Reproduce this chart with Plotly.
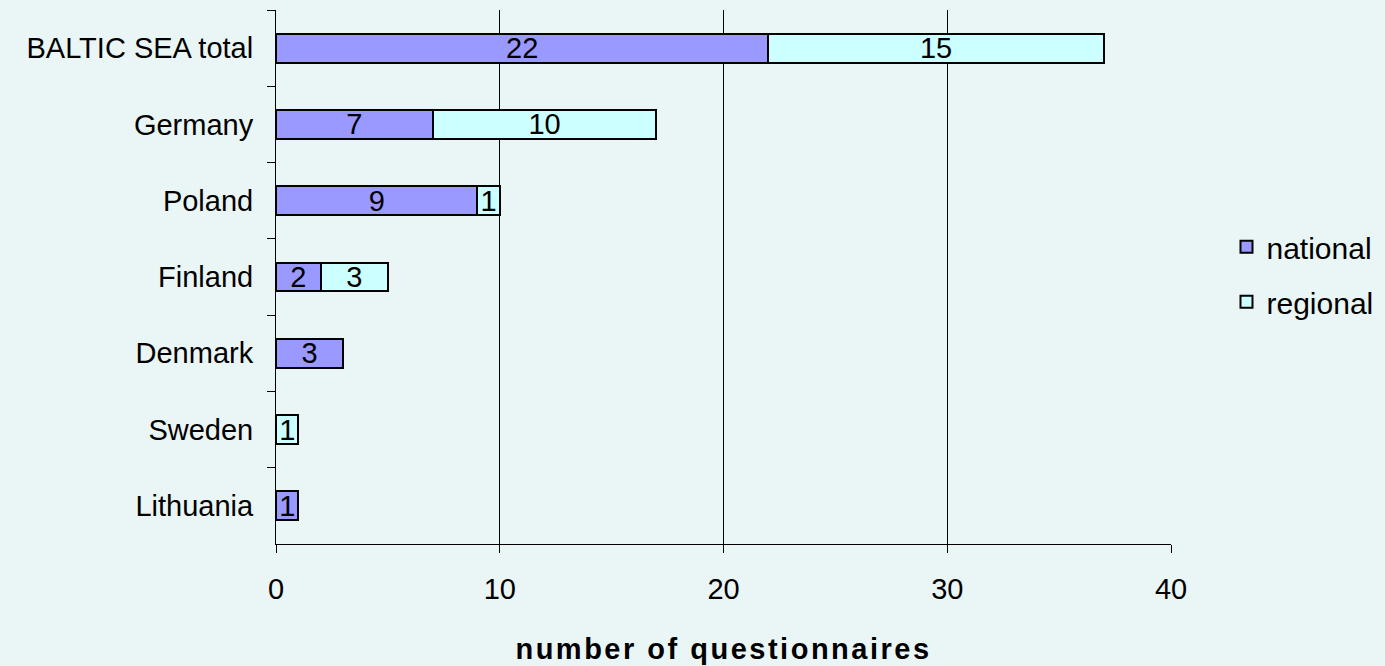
import plotly.graph_objects as go

categories = ["BALTIC SEA total", "Germany", "Poland", "Finland", "Denmark", "Sweden", "Lithuania"]
national = [22, 7, 9, 2, 3, 0, 1]
regional = [15, 10, 1, 3, 0, 1, 0]
x_ticks = [0, 10, 20, 30, 40]

def lbl(vals):
    return [str(v) if v else "" for v in vals]

font = "Liberation Sans, Arial, sans-serif"
FS = 29
BG = "#EAF5F5"
fig = go.Figure()
fig.add_trace(go.Bar(
    y=categories, x=national, name="national", orientation="h",
    marker=dict(color="#9999FF", line=dict(color="black", width=2)),
    text=lbl(national), textposition="inside", insidetextanchor="middle", textangle=0,
    textfont=dict(size=FS, color="black", family=font), legendgroup="a",
    constraintext="none", hoverinfo="x+y+name",
))
fig.add_trace(go.Bar(
    y=categories, x=regional, name="regional", orientation="h",
    marker=dict(color="#CCFFFF", line=dict(color="black", width=2)),
    text=lbl(regional), textposition="inside", insidetextanchor="middle", textangle=0,
    textfont=dict(size=FS, color="black", family=font), legendgroup="b",
    constraintext="none", hoverinfo="x+y+name",
))
fig.update_layout(
    width=1385, height=666,
    barmode="stack", bargap=0.62,
    paper_bgcolor=BG, plot_bgcolor=BG,
    margin=dict(l=276, r=214, t=10, b=122, autoexpand=False),
    font=dict(family=font, size=FS, color="black"),
    uniformtext=dict(minsize=FS, mode="show"),
    showlegend=True,
    legend=dict(x=1.062, y=0.505, xanchor="left", yanchor="middle",
                traceorder="grouped", tracegroupgap=13,
                font=dict(size=30), bgcolor="rgba(0,0,0,0)",
                itemwidth=30),
    xaxis=dict(range=[0, 40], tickvals=x_ticks, showgrid=True, gridcolor="black", gridwidth=1,
               showline=True, linecolor="black", linewidth=1, ticks="outside", ticklen=8,
               tickcolor="black", zeroline=False, tickfont=dict(size=FS), ticklabelstandoff=11,
               title=dict(text="<b><span style='letter-spacing:2.5px'>number of questionnaires</span></b>",
                          font=dict(size=FS), standoff=34)),
    yaxis=dict(autorange="reversed", showline=True, linecolor="black", linewidth=1,
               ticks="outside", ticklen=8, tickcolor="black", tickson="boundaries",
               showgrid=False, tickfont=dict(size=FS), ticklabelstandoff=16),
)
fig.write_html("out.html", config={"displayModeBar": False},
               post_script="document.body.style.margin='0';document.body.style.background='" + BG + "';")
